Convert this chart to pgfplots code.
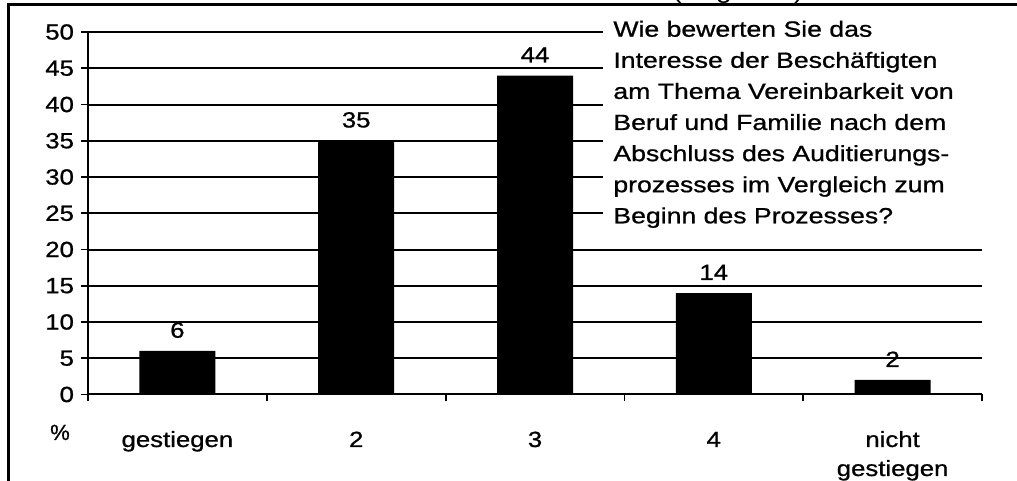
\documentclass[border=0pt]{standalone}
\usepackage{pgfplots}
\pgfplotsset{compat=1.18}
\usepackage{fontspec}
\setmainfont{Liberation Sans}[BoldFont={Liberation Sans}, BoldFeatures={FakeBold=0.8}]
\newcommand\sx[1]{\scalebox{1.17}[1]{#1}}
\newcommand\tx[1]{\scalebox{1.21}[1]{#1}}
\newcommand\ff{\fontsize{11}{14.5}\selectfont\bfseries}
\begin{document}
\begin{tikzpicture}
\path[use as bounding box, clip] (0,0) rectangle (508.5pt,240.5pt);
\begin{axis}[
  at={(44pt,43.25pt)}, anchor=south west,
  scale only axis, width=447pt, height=181.25pt,
  xmin=0, xmax=5, ymin=0, ymax=50,
  axis lines=left, axis line style={-, line width=1pt, black},
  ymajorgrids, grid style={black, line width=1pt},
  ytick={0,5,...,50},
  xtick={0,1,2,3,4,5}, xticklabels={},
  tick align=outside, major tick length=3.5pt,
  tick style={black, line width=0.9pt},
  extra x ticks={0.5,1.5,2.5,3.5,4.5},
  extra x tick labels={\sx{gestiegen},\sx{2},\sx{3},\sx{4},{\begin{tabular}[t]{@{}c@{}}\sx{nicht}\\\sx{gestiegen}\end{tabular}}},
  extra x tick style={tick style={draw=none}, xticklabel style={anchor=base, yshift=-22.75pt}},
  /pgf/number format/assume math mode=true,
  yticklabel={\sx{\pgfmathprintnumber{\tick}}},
  tick label style={font=\ff},
  ybar, bar width=38pt,
  nodes near coords={\sx{\pgfmathprintnumber{\pgfplotspointmeta}}},
  nodes near coords style={font=\ff, yshift=3pt},
  clip=false,
]
\addplot[fill=black, draw=none] coordinates {(0.5,6) (1.5,35) (2.5,44) (3.5,14) (4.5,2)};
\end{axis}
\fill[white] (301.5pt,121.5pt) rectangle (495pt,234.5pt);
\begin{scope}[every node/.style={anchor=base west, inner sep=0pt, font=\ff}]
\node at (306.5pt,222.15pt) {\tx{Wie bewerten Sie das}};
\node at (306.5pt,206.6pt) {\tx{Interesse der Beschäftigten}};
\node at (306.5pt,191.05pt) {\tx{am Thema Vereinbarkeit von}};
\node at (306.5pt,175.5pt) {\tx{Beruf und Familie nach dem}};
\node at (306.5pt,159.95pt) {\tx{Abschluss des Auditierungs-}};
\node at (306.5pt,144.4pt) {\tx{prozesses im Vergleich zum}};
\node at (306.5pt,128.85pt) {\tx{Beginn des Prozesses?}};
\end{scope}
\node[anchor=base, inner sep=0pt, font=\ff] at (30pt,20.5pt) {\%};
\node[anchor=base west, inner sep=0pt, font=\fontsize{12}{14}\selectfont] at (336pt,241pt) {\sx{(Angaben)}};
\draw[line width=1.5pt] (4pt,-2pt) -- (4pt,238pt) -- (512pt,238pt);
\end{tikzpicture}
\end{document}
